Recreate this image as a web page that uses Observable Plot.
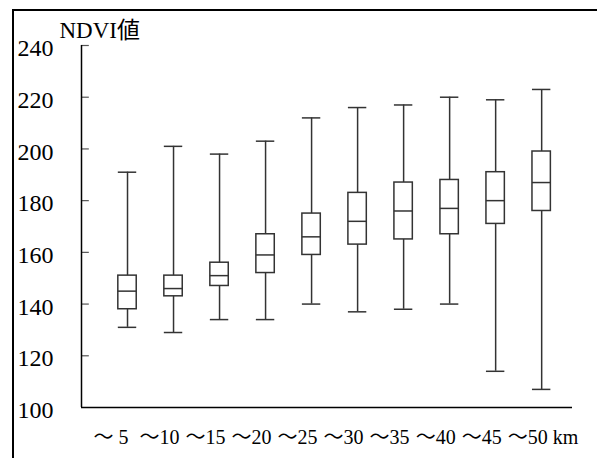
<!DOCTYPE html>
<html>
<head>
<meta charset="utf-8">
<script src="https://cdn.jsdelivr.net/npm/d3@7"></script>
<script src="https://cdn.jsdelivr.net/npm/@observablehq/plot@0.6"></script>
<style>
  html, body { margin: 0; padding: 0; background: #fff; }
  #wrap { position: relative; width: 597px; height: 458px; overflow: hidden; }
  #frame { position: absolute; left: 12px; top: 9px; width: 700px; height: 600px;
           border-left: 2px solid #000; border-top: 2px solid #000; }
  #chart { position: absolute; left: 0; top: 0; }
  #chart svg, #chart svg text, #chart svg g {
    font-family: "Liberation Serif", "Noto Sans CJK JP", serif !important;
  }
</style>
</head>
<body>
<div id="wrap"><div id="frame"></div><div id="chart"></div></div>
<script>
const categories = ["～ 5", "～10", "～15", "～20", "～25", "～30", "～35", "～40", "～45", "～50 km"];
const whiskerLow  = [131, 129, 134, 134, 140, 137, 138, 140, 114, 107];
const q1          = [138, 143, 147, 152, 159, 163, 165, 167, 171, 176];
const median      = [145, 146, 151, 159, 166, 172, 176, 177, 180, 187];
const q3          = [151, 151, 156, 167, 175, 183, 187, 188, 191, 199];
const whiskerHigh = [191, 201, 198, 203, 212, 216, 217, 220, 219, 223];
const yTicks = [100, 120, 140, 160, 180, 200, 220, 240];
const yLabel = "NDVI値";

const data = categories.map((c, i) => ({
  pos: i + 1, cat: c,
  lo: whiskerLow[i], q1: q1[i], med: median[i], q3: q3[i], hi: whiskerHigh[i]
}));

const hw = 0.2;
const stroke = "#333";

const chart = Plot.plot({
  width: 597,
  height: 458,
  marginLeft: 81,
  marginRight: 25,
  marginTop: 45,
  marginBottom: 51,
  style: { background: "transparent", color: "#000" },
  x: { domain: [0, 10.67], axis: null, label: null },
  y: { domain: [100, 240], axis: null, label: null },
  marks: [
    Plot.ruleX(data, { x: "pos", y1: "lo", y2: "hi", stroke, strokeWidth: 1.5 }),
    Plot.ruleY(data, { y: "lo", x1: d => d.pos - hw, x2: d => d.pos + hw, stroke, strokeWidth: 1.5 }),
    Plot.ruleY(data, { y: "hi", x1: d => d.pos - hw, x2: d => d.pos + hw, stroke, strokeWidth: 1.5 }),
    Plot.rect(data, { x1: d => d.pos - hw, x2: d => d.pos + hw, y1: "q1", y2: "q3", fill: "#fff", stroke, strokeWidth: 1.5 }),
    Plot.ruleY(data, { y: "med", x1: d => d.pos - hw, x2: d => d.pos + hw, stroke, strokeWidth: 1.5 }),
    Plot.axisY({ ticks: yTicks, tickSize: 0, tickPadding: 28, fontSize: 24, dy: 3, label: null, tickFormat: d => String(d) }),
    Plot.ruleY(yTicks.slice(1), { x1: 0, x2: 0.17, stroke: "#555", strokeWidth: 1.2 }),
    Plot.ruleX([0], { y1: 100, y2: 240, stroke: "#000", strokeWidth: 1.5 }),
    Plot.ruleY([100], { x1: 0, x2: 10.67, stroke: "#000", strokeWidth: 1.5 }),
    Plot.axisX({ ticks: data.map(d => d.pos), tickSize: 0, tickPadding: 22, fontSize: 20, label: null,
                 textAnchor: "start", dx: -34, tickFormat: d => categories[d - 1] }),
    Plot.text([yLabel], { frameAnchor: "top-left", dx: -22, dy: -24, text: d => d,
                          fontSize: 23, textAnchor: "start", lineAnchor: "top", fill: "#000" })
  ]
});
document.getElementById("chart").appendChild(chart);
</script>
</body>
</html>
